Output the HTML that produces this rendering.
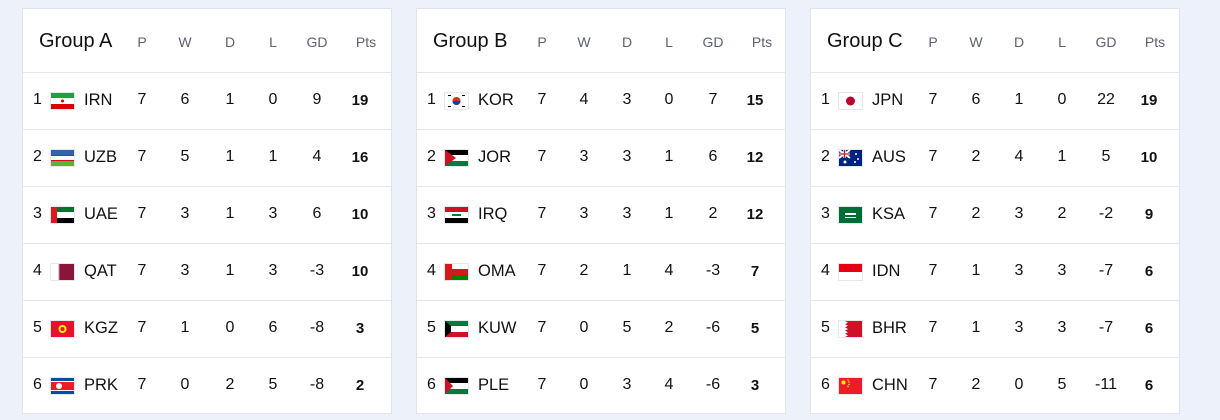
<!DOCTYPE html>
<html><head><meta charset="utf-8"><style>
body{margin:0;width:1220px;height:420px;background:#edf1f9;font-family:"Liberation Sans",sans-serif;position:relative;overflow:hidden}
.card{position:absolute;top:8px;width:368px;height:404px;background:#fff;border:1px solid #dfe4ee}
.line{position:absolute;left:0;right:0;height:1px;background:#e3e7ef}
.t{position:absolute;transform:translateX(-50%);white-space:nowrap;color:#111}
.h{color:#5a6170;font-size:14px;top:25px}
.title{position:absolute;left:16px;top:21px;font-size:20px;color:#111}
.r{font-size:16px}
.b{font-weight:bold;font-size:15px}
.flag{position:absolute;left:28px;width:23px;height:16px;outline:1px solid #e3e7ef}
.code{position:absolute;left:61px;font-size:16.5px;color:#111}
.rk{position:absolute;left:10px;font-size:16px;color:#111}
</style></head><body>
<div id="root"></div>
<script>
const groups=[
{left:22,name:"Group A",cols:[119,162,207,250,294,343],ptsv:337,rows:[
["IRN","7","6","1","0","9","19","irn"],["UZB","7","5","1","1","4","16","uzb"],["UAE","7","3","1","3","6","10","uae"],["QAT","7","3","1","3","-3","10","qat"],["KGZ","7","1","0","6","-8","3","kgz"],["PRK","7","0","2","5","-8","2","prk"]]},
{left:416,name:"Group B",cols:[125,167,210,252,296,345],ptsv:338,rows:[
["KOR","7","4","3","0","7","15","kor"],["JOR","7","3","3","1","6","12","jor"],["IRQ","7","3","3","1","2","12","irq"],["OMA","7","2","1","4","-3","7","oma"],["KUW","7","0","5","2","-6","5","kuw"],["PLE","7","0","3","4","-6","3","ple"]]},
{left:810,name:"Group C",cols:[122,165,208,251,295,344],ptsv:338,rows:[
["JPN","7","6","1","0","22","19","jpn"],["AUS","7","2","4","1","5","10","aus"],["KSA","7","2","3","2","-2","9","ksa"],["IDN","7","1","3","3","-7","6","idn"],["BHR","7","1","3","3","-7","6","bhr"],["CHN","7","2","0","5","-11","6","chn"]]}];
const F={
irn:'<rect width="23" height="16" fill="#fff"/><rect width="23" height="5" fill="#239f40"/><rect y="11" width="23" height="5" fill="#da0000"/><circle cx="11.5" cy="8" r="1.5" fill="#da0000"/>',
uzb:'<rect width="23" height="16" fill="#fff"/><rect width="23" height="5" fill="#2f62b0"/><rect y="11" width="23" height="5" fill="#5fb130"/><rect y="5" width="23" height="1" fill="#ce1126"/><rect y="10" width="23" height="1" fill="#ce1126"/>',
uae:'<rect width="23" height="16" fill="#fff"/><rect width="23" height="5" fill="#00732f"/><rect y="11" width="23" height="5" fill="#000"/><rect width="6" height="16" fill="#e0161e"/>',
qat:'<rect width="23" height="16" fill="#8a1538"/><polygon points="0,0 7,0 9,1 7,2 9,3 7,4 9,5 7,6 9,7 7,8 9,9 7,10 9,11 7,12 9,13 7,14 9,15 7,16 0,16" fill="#fff"/>',
kgz:'<rect width="23" height="16" fill="#e8112d"/><circle cx="11.5" cy="8" r="4" fill="#ffef00"/><circle cx="11.5" cy="8" r="2" fill="#e8112d"/>',
prk:'<rect width="23" height="16" fill="#024fa2"/><rect y="3" width="23" height="10" fill="#fff"/><rect y="4" width="23" height="8" fill="#ed1c27"/><circle cx="8" cy="8" r="3" fill="#fff"/>',
kor:'<rect width="23" height="16" fill="#fff"/><circle cx="11.5" cy="8" r="4" fill="#cd2e3a"/><path d="M7.5 8a4 4 0 0 0 8 0z" fill="#0047a0"/><g fill="#000"><rect x="3" y="2" width="3" height="1"/><rect x="17" y="13" width="3" height="1"/><rect x="3" y="13" width="3" height="1"/><rect x="17" y="2" width="3" height="1"/></g>',
jor:'<rect width="23" height="16" fill="#fff"/><rect width="23" height="5" fill="#000"/><rect y="11" width="23" height="5" fill="#007a3d"/><polygon points="0,0 11,8 0,16" fill="#ce1126"/>',
irq:'<rect width="23" height="16" fill="#fff"/><rect width="23" height="5" fill="#ce1126"/><rect y="11" width="23" height="5" fill="#000"/><rect x="7" y="7" width="9" height="2" fill="#007a3d"/>',
oma:'<rect width="23" height="16" fill="#fff"/><rect y="5" width="23" height="6" fill="#db161b"/><rect y="11" width="23" height="5" fill="#008000"/><rect width="7" height="16" fill="#db161b"/>',
kuw:'<rect width="23" height="16" fill="#fff"/><rect width="23" height="5" fill="#007a3d"/><rect y="11" width="23" height="5" fill="#ce1126"/><polygon points="0,0 6,5 6,11 0,16" fill="#000"/>',
ple:'<rect width="23" height="16" fill="#fff"/><rect width="23" height="5" fill="#000"/><rect y="11" width="23" height="5" fill="#007a3d"/><polygon points="0,0 8,8 0,16" fill="#ce1126"/>',
jpn:'<rect width="23" height="16" fill="#fff"/><circle cx="11.5" cy="8" r="4.5" fill="#bc002d"/>',
aus:'<rect width="23" height="16" fill="#00247d"/><path d="M0 0L11 8M11 0L0 8" stroke="#fff" stroke-width="2"/><path d="M5.5 0v8M0 4h11" stroke="#fff" stroke-width="2.5"/><path d="M5.5 0v8M0 4h11" stroke="#cf142b" stroke-width="1.2"/><g fill="#fff"><circle cx="17" cy="4" r="1"/><circle cx="19" cy="9" r="1"/><circle cx="16" cy="12" r="1"/><circle cx="6" cy="12" r="1.5"/></g>',
ksa:'<rect width="23" height="16" fill="#006c35"/><rect x="6" y="6" width="11" height="2" fill="#fff"/><rect x="6" y="10" width="11" height="1" fill="#fff"/>',
idn:'<rect width="23" height="16" fill="#fff"/><rect width="23" height="8" fill="#e70011"/>',
bhr:'<rect width="23" height="16" fill="#ce1126"/><polygon points="0,0 6,0 9,1.6 6,3.2 9,4.8 6,6.4 9,8 6,9.6 9,11.2 6,12.8 9,14.4 6,16 0,16" fill="#fff"/>',
chn:'<rect width="23" height="16" fill="#ee1c25"/><g fill="#ffff00"><circle cx="4.5" cy="4.5" r="2"/><circle cx="9" cy="2" r=".7"/><circle cx="10" cy="4" r=".7"/><circle cx="10" cy="6.5" r=".7"/><circle cx="9" cy="8.5" r=".7"/></g>'};
let h='';
const heads=["P","W","D","L","GD","Pts"];
for(const g of groups){
 h+=`<div class="card" style="left:${g.left}px"><div class="title">${g.name}</div>`;
 g.cols.forEach((c,i)=>h+=`<div class="t h" style="left:${c}px">${heads[i]}</div>`);
 for(let i=0;i<6;i++){
  const y=63+57*i;
  h+=`<div class="line" style="top:${y}px"></div>`;
  const r=g.rows[i], ty=y+19;
  h+=`<div class="rk" style="top:${ty}px">${i+1}</div>`;
  h+=`<svg class="flag" style="top:${y+21}px" viewBox="0 0 23 16">${F[r[7]]}</svg>`;
  h+=`<div class="code" style="top:${ty}px">${r[0]}</div>`;
  for(let k=0;k<5;k++) h+=`<div class="t r" style="left:${g.cols[k]}px;top:${ty}px">${r[k+1]}</div>`;
  h+=`<div class="t b" style="left:${g.ptsv}px;top:${ty+1}px">${r[6]}</div>`;
 }
 h+='</div>';
}
document.getElementById('root').innerHTML=h;
</script>
</body></html>
